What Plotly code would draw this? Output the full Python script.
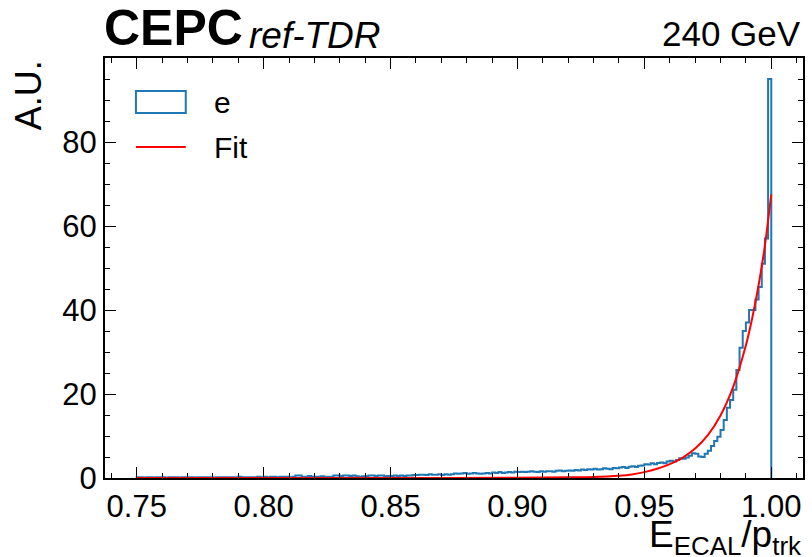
import numpy as np
import plotly.graph_objects as go

# ---- data ----
bin_lo, bin_hi, n_bins = 0.75, 1.00, 200
hist_values = [
    0.2, 0.2, 0.1, 0.2, 0.2, 0.1, 0.2, 0.2, 0.2, 0.1,
    0.2, 0.2, 0.2, 0.1, 0.2, 0.2, 0.2, 0.2, 0.1, 0.2,
    0.2, 0.2, 0.2, 0.2, 0.1, 0.2, 0.2, 0.2, 0.2, 0.2,
    0.2, 0.2, 0.3, 0.2, 0.2, 0.2, 0.2, 0.2, 0.3, 0.2,
    0.3, 0.2, 0.3, 0.3, 0.2, 0.3, 0.3, 0.3, 0.2, 0.3,
    0.6, 0.6, 0.3, 0.3, 0.5, 0.3, 0.3, 0.3, 0.4, 0.3,
    0.3, 0.3, 0.6, 0.6, 0.5, 0.6, 0.6, 0.5, 0.6, 0.4,
    0.3, 0.4, 0.4, 0.6, 0.6, 0.5, 0.6, 0.6, 0.4, 0.5,
    0.5, 0.6, 0.5, 0.6, 0.5, 0.6, 0.6, 0.7, 0.7, 0.8,
    0.8, 0.7, 0.9, 0.8, 0.8, 0.9, 0.7, 0.9, 0.8, 0.9,
    1.1, 1.0, 1.1, 1.2, 1.0, 1.1, 1.2, 1.1, 1.0, 1.1,
    1.2, 1.1, 1.3, 1.2, 1.4, 1.2, 1.3, 1.4, 1.3, 1.5,
    1.4, 1.5, 1.4, 1.5, 1.6, 1.5, 1.4, 1.6, 1.5, 1.6,
    1.6, 1.5, 1.7, 1.8, 1.6, 1.7, 1.8, 1.7, 1.9, 1.8,
    2.0, 1.9, 2.1, 2.0, 2.2, 2.0, 2.1, 2.3, 2.2, 2.1,
    2.4, 2.3, 2.5, 2.6, 2.4, 2.7, 2.8, 2.6, 2.9, 3.0,
    3.3, 3.2, 3.5, 3.3, 3.6, 3.7, 3.5, 3.9, 4.1, 3.9,
    4.3, 4.7, 4.6, 4.9, 5.3, 5.9, 5.8, 5.1, 5.0, 5.8,
    6.5, 7.6, 8.8, 9.8, 11.4, 13.8, 16.7, 18.6, 21.0, 25.7,
    31.0, 35.0, 37.0, 40.0, 40.0, 42.5, 45.5, 51.0, 57.0, 95.0,
]
fit_x = [0.75, 0.85, 0.90, 0.92, 0.93, 0.94, 0.945, 0.95, 0.955, 0.96, 0.965,
         0.97, 0.975, 0.98, 0.985, 0.99, 0.9925, 0.995, 0.9975, 1.0]
fit_y = [0.0, 0.0, 0.05, 0.15, 0.25, 0.55, 0.85, 1.4, 2.2, 3.3, 4.8,
         7.0, 10.2, 14.9, 21.7, 31.6, 38.1, 45.9, 55.4, 67.5]
x_ticks = [0.75, 0.80, 0.85, 0.90, 0.95, 1.00]
y_ticks = [0, 20, 40, 60, 80]

edges = np.linspace(bin_lo, bin_hi, n_bins + 1)
step_x = [edges[0]] + list(edges[:-1]) + [edges[-1]]
step_y = [0] + list(hist_values) + [0]

BLUE = "#1f77b4"
FONT = "Liberation Sans, Arial, sans-serif"

fig = go.Figure()
fig.add_trace(go.Scatter(x=step_x, y=step_y, mode="lines", line=dict(color=BLUE, width=2, shape="hv"),
                         name="e", showlegend=False, hoverinfo="skip"))
fig.add_trace(go.Scatter(x=fit_x, y=fit_y, mode="lines", line=dict(color="red", width=2, shape="spline", smoothing=0.6),
                         name="Fit", showlegend=False, hoverinfo="skip"))

axis_common = dict(showline=True, linewidth=2, linecolor="black", mirror="allticks",
                   ticks="inside", ticklen=11, tickwidth=1.3, tickcolor="black",
                   showgrid=False, zeroline=False,
                   tickfont=dict(family=FONT, size=31, color="black"))
fig.update_xaxes(range=[0.7375, 1.0125], tickvals=x_ticks, ticktext=[f"{v:.2f}" for v in x_ticks],
                 minor=dict(dtick=0.01, tick0=0.75, ticks="inside", ticklen=5, tickwidth=1, tickcolor="black"),
                 **axis_common)
fig.update_yaxes(range=[0, 100], tickvals=y_ticks,
                 minor=dict(dtick=5, tick0=0, ticks="inside", ticklen=5, tickwidth=1, tickcolor="black"),
                 **axis_common)

fig.update_layout(width=812, height=557, margin=dict(l=105, r=7, t=58, b=79),
                  paper_bgcolor="white", plot_bgcolor="white", showlegend=False,
                  font=dict(family=FONT, color="black"))

# manual legend
fig.add_shape(type="rect", xref="paper", yref="paper", x0=0.0443, x1=0.1157, y0=0.869, y1=0.9214,
              line=dict(color=BLUE, width=2), fillcolor="rgba(0,0,0,0)")
fig.add_shape(type="line", xref="paper", yref="paper", x0=0.0443, x1=0.1157, y0=0.788, y1=0.788,
              line=dict(color="red", width=2))
fig.add_annotation(text="e", xref="paper", yref="paper", x=0.153, y=0.895, xanchor="left", yanchor="middle",
                   showarrow=False, font=dict(size=30))
fig.add_annotation(text="Fit", xref="paper", yref="paper", x=0.153, y=0.788, xanchor="left", yanchor="middle",
                   showarrow=False, font=dict(size=30))

# titles
fig.add_annotation(text="<b>CEPC</b>", xref="paper", yref="paper", x=-0.004, y=1.0, xanchor="left", yanchor="bottom",
                   showarrow=False, font=dict(size=50))
fig.add_annotation(text="<i>ref-TDR</i>", xref="paper", yref="paper", x=0.204, y=1.0, xanchor="left", yanchor="bottom",
                   showarrow=False, font=dict(size=37))
fig.add_annotation(text="240 GeV", xref="paper", yref="paper", x=1.0, y=1.006, xanchor="right", yanchor="bottom",
                   showarrow=False, font=dict(size=35))
fig.add_annotation(text="E<sub>ECAL</sub>/p<sub>trk</sub>", xref="paper", yref="paper", x=1.0, y=-0.082,
                   xanchor="right", yanchor="top", showarrow=False, font=dict(size=37))
fig.add_annotation(text="A.U.", xref="paper", yref="paper", x=-0.11, y=1.0, xanchor="center", yanchor="top",
                   textangle=-90, showarrow=False, font=dict(size=36))

fig.write_html("out.html", config={"displayModeBar": False},
               post_script="document.body.style.margin='0';document.body.style.padding='0';")
